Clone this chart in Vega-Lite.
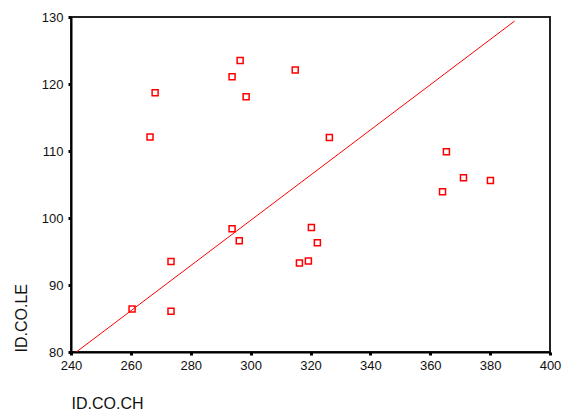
{
  "$schema": "https://vega.github.io/schema/vega-lite/v6.json",
  "autosize": "none",
  "width": 479,
  "height": 335,
  "padding": {"left": 71, "top": 17, "right": 16, "bottom": 66},
  "background": "white",
  "config": {
    "font": "Liberation Sans",
    "view": {"stroke": "#222", "strokeWidth": 2},
    "axis": {
      "grid": false,
      "domainColor": "#000",
      "domainWidth": 2,
      "tickColor": "#000",
      "tickSize": 3,
      "tickWidth": 3,
      "labelFlush": false,
      "labelOverlap": false,
      "labelBound": false,
      "labelFont": "Liberation Sans",
      "labelFontSize": 13,
      "labelColor": "#111",
      "titleFont": "Liberation Sans",
      "titleFontSize": 16,
      "titleFontWeight": "normal",
      "titleColor": "#111"
    }
  },
  "datasets": {
    "pts": [
      {"ch": 266.4, "le": 112.1},
      {"ch": 268.1, "le": 118.7},
      {"ch": 293.8, "le": 121.1},
      {"ch": 296.5, "le": 123.5},
      {"ch": 298.5, "le": 118.1},
      {"ch": 314.9, "le": 122.1},
      {"ch": 326.3, "le": 112.0},
      {"ch": 365.4, "le": 109.9},
      {"ch": 364.1, "le": 103.9},
      {"ch": 371.1, "le": 106.0},
      {"ch": 380.1, "le": 105.6},
      {"ch": 293.8, "le": 98.4},
      {"ch": 296.2, "le": 96.6},
      {"ch": 273.4, "le": 93.5},
      {"ch": 260.4, "le": 86.4},
      {"ch": 273.4, "le": 86.1},
      {"ch": 320.3, "le": 98.6},
      {"ch": 322.3, "le": 96.3},
      {"ch": 316.3, "le": 93.3},
      {"ch": 319.3, "le": 93.6}
    ],
    "fit": [
      {"ch": 240, "le": 79.4},
      {"ch": 388.2, "le": 129.4}
    ]
  },
  "layer": [
    {
      "data": {"name": "fit"},
      "mark": {"type": "line", "color": "#ff0000", "strokeWidth": 1, "clip": true},
      "encoding": {
        "x": {"field": "ch", "type": "quantitative"},
        "y": {"field": "le", "type": "quantitative"}
      }
    },
    {
      "data": {"name": "pts"},
      "mark": {"type": "point", "shape": "square", "size": 36, "filled": false, "color": "#ff0000", "strokeWidth": 1.5, "opacity": 1},
      "encoding": {
        "x": {
          "field": "ch", "type": "quantitative",
          "scale": {"domain": [240, 400], "nice": false, "zero": false},
          "axis": {
            "title": "ID.CO.CH",
            "values": [240, 260, 280, 300, 320, 340, 360, 380, 400],
            "labelPadding": 4,
            "titleAnchor": "start",
            "titleAlign": "left",
            "titleBaseline": "middle",
            "titleX": 0,
            "titleY": 51
          }
        },
        "y": {
          "field": "le", "type": "quantitative",
          "scale": {"domain": [80, 130], "nice": false, "zero": false},
          "axis": {
            "title": "ID.CO.LE",
            "values": [80, 90, 100, 110, 120, 130],
            "labelPadding": 5,
            "titleAngle": 270,
            "titleAlign": "left",
            "titleBaseline": "middle",
            "titleX": -50,
            "titleY": 335
          }
        }
      }
    }
  ]
}
